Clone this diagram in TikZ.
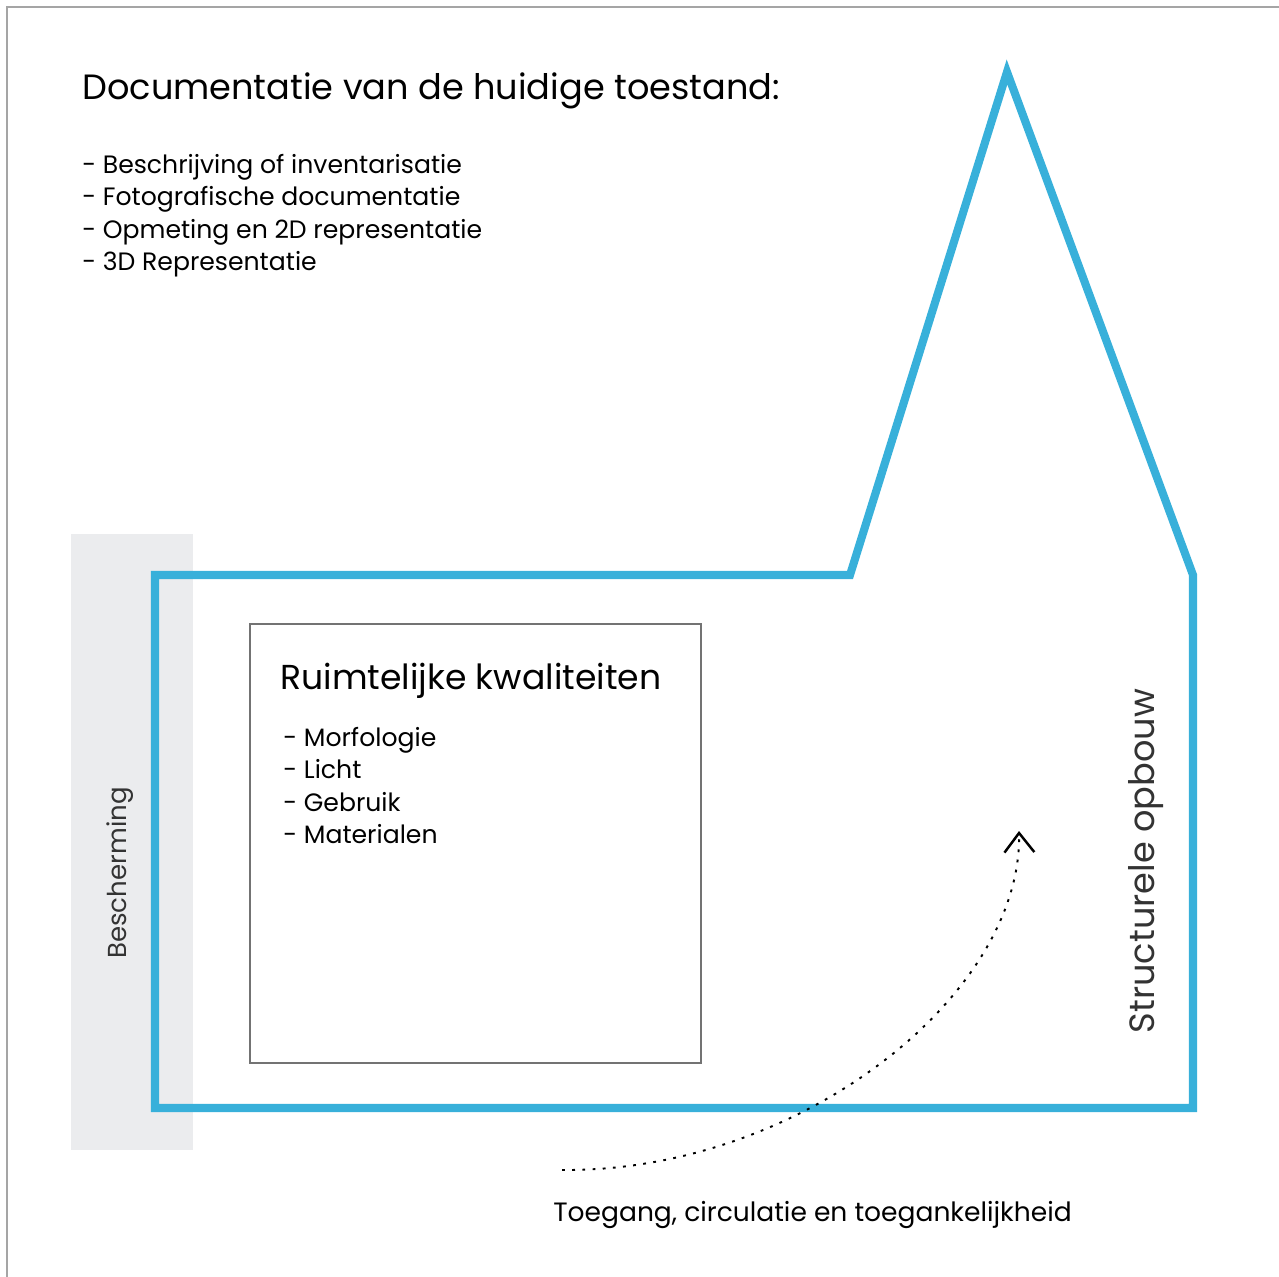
\documentclass[tikz,border=0pt]{standalone}
\usepackage{fontspec}
\setmainfont{Poppins}
\usetikzlibrary{arrows.meta}
\definecolor{house_blue}{RGB}{56,176,218}
\definecolor{band_grey}{RGB}{235,236,238}
\definecolor{frame_grey}{RGB}{165,165,165}
\tikzstyle{title}=[inner sep=0pt,anchor=base west,font=\fontsize{20}{24}\selectfont]
\tikzstyle{item}=[inner sep=0pt,anchor=base west,font=\fontsize{14.3}{16}\selectfont]
\tikzstyle{side}=[inner sep=0pt,rotate=90,text=black!80]
\tikzstyle{none}=[]

\begin{document}
\begin{tikzpicture}[x=0.02cm, y=-0.02cm]
            \fill [white] (0, 0) rectangle (1279, 1277);
            \useasboundingbox (0, 0) rectangle (1279, 1277);
            \draw [frame_grey, line width=1.2pt] (7, 1277) -- (7, 7) -- (1279, 7);
            % grey band and house outline
            \fill [band_grey] (71, 534) rectangle (193, 1150);
            \draw [house_blue, line width=4.6pt, line join=miter]
              (155, 575) -- (850, 575) -- (1007, 72) -- (1193, 575)
              -- (1193, 1108) -- (155, 1108) -- cycle;
            \draw [black!55, line width=0.8pt] (250, 624) rectangle (701, 1063);
            % texts
            \node [style=title] (0) at (82, 100) {Documentatie van de huidige toestand:};
            \node [style=item] (1) at (82, 174) {- Beschrijving of inventarisatie};
            \node [style=item] (2) at (82, 206) {- Fotografische documentatie};
            \node [style=item] (3) at (82, 239) {- Opmeting en 2D representatie};
            \node [style=item] (4) at (82, 271) {- 3D Representatie};
            \node [style=title, font=\fontsize{19.7}{24}\selectfont] (5) at (280, 689) {Ruimtelijke kwaliteiten};
            \node [style=item] (6) at (283, 746) {- Morfologie};
            \node [style=item] (7) at (283, 778) {- Licht};
            \node [style=item] (8) at (283, 811) {- Gebruik};
            \node [style=item] (9) at (283, 843) {- Materialen};
            \node [style=side, font=\fontsize{14.8}{18}\selectfont] (10) at (120, 873) {Bescherming};
            \node [style=side, font=\fontsize{20}{24}\selectfont] (11) at (1146, 861) {Structurele opbouw};
            \node [style=item, font=\fontsize{15.1}{18}\selectfont] (12) at (553, 1221) {Toegang, circulatie en toegankelijkheid};
            % dotted route
            \coordinate (13) at (562, 1170);
            \coordinate (14) at (1019, 831);
            \draw [line width=1.1pt, dash pattern=on 1.6pt off 4.2pt,
              -{Straight Barb[length=11pt,width=17pt,line width=1.4pt]}]
              (13) .. controls (800, 1172) and (1022, 995) .. (14);
    \end{tikzpicture}
\end{document}
